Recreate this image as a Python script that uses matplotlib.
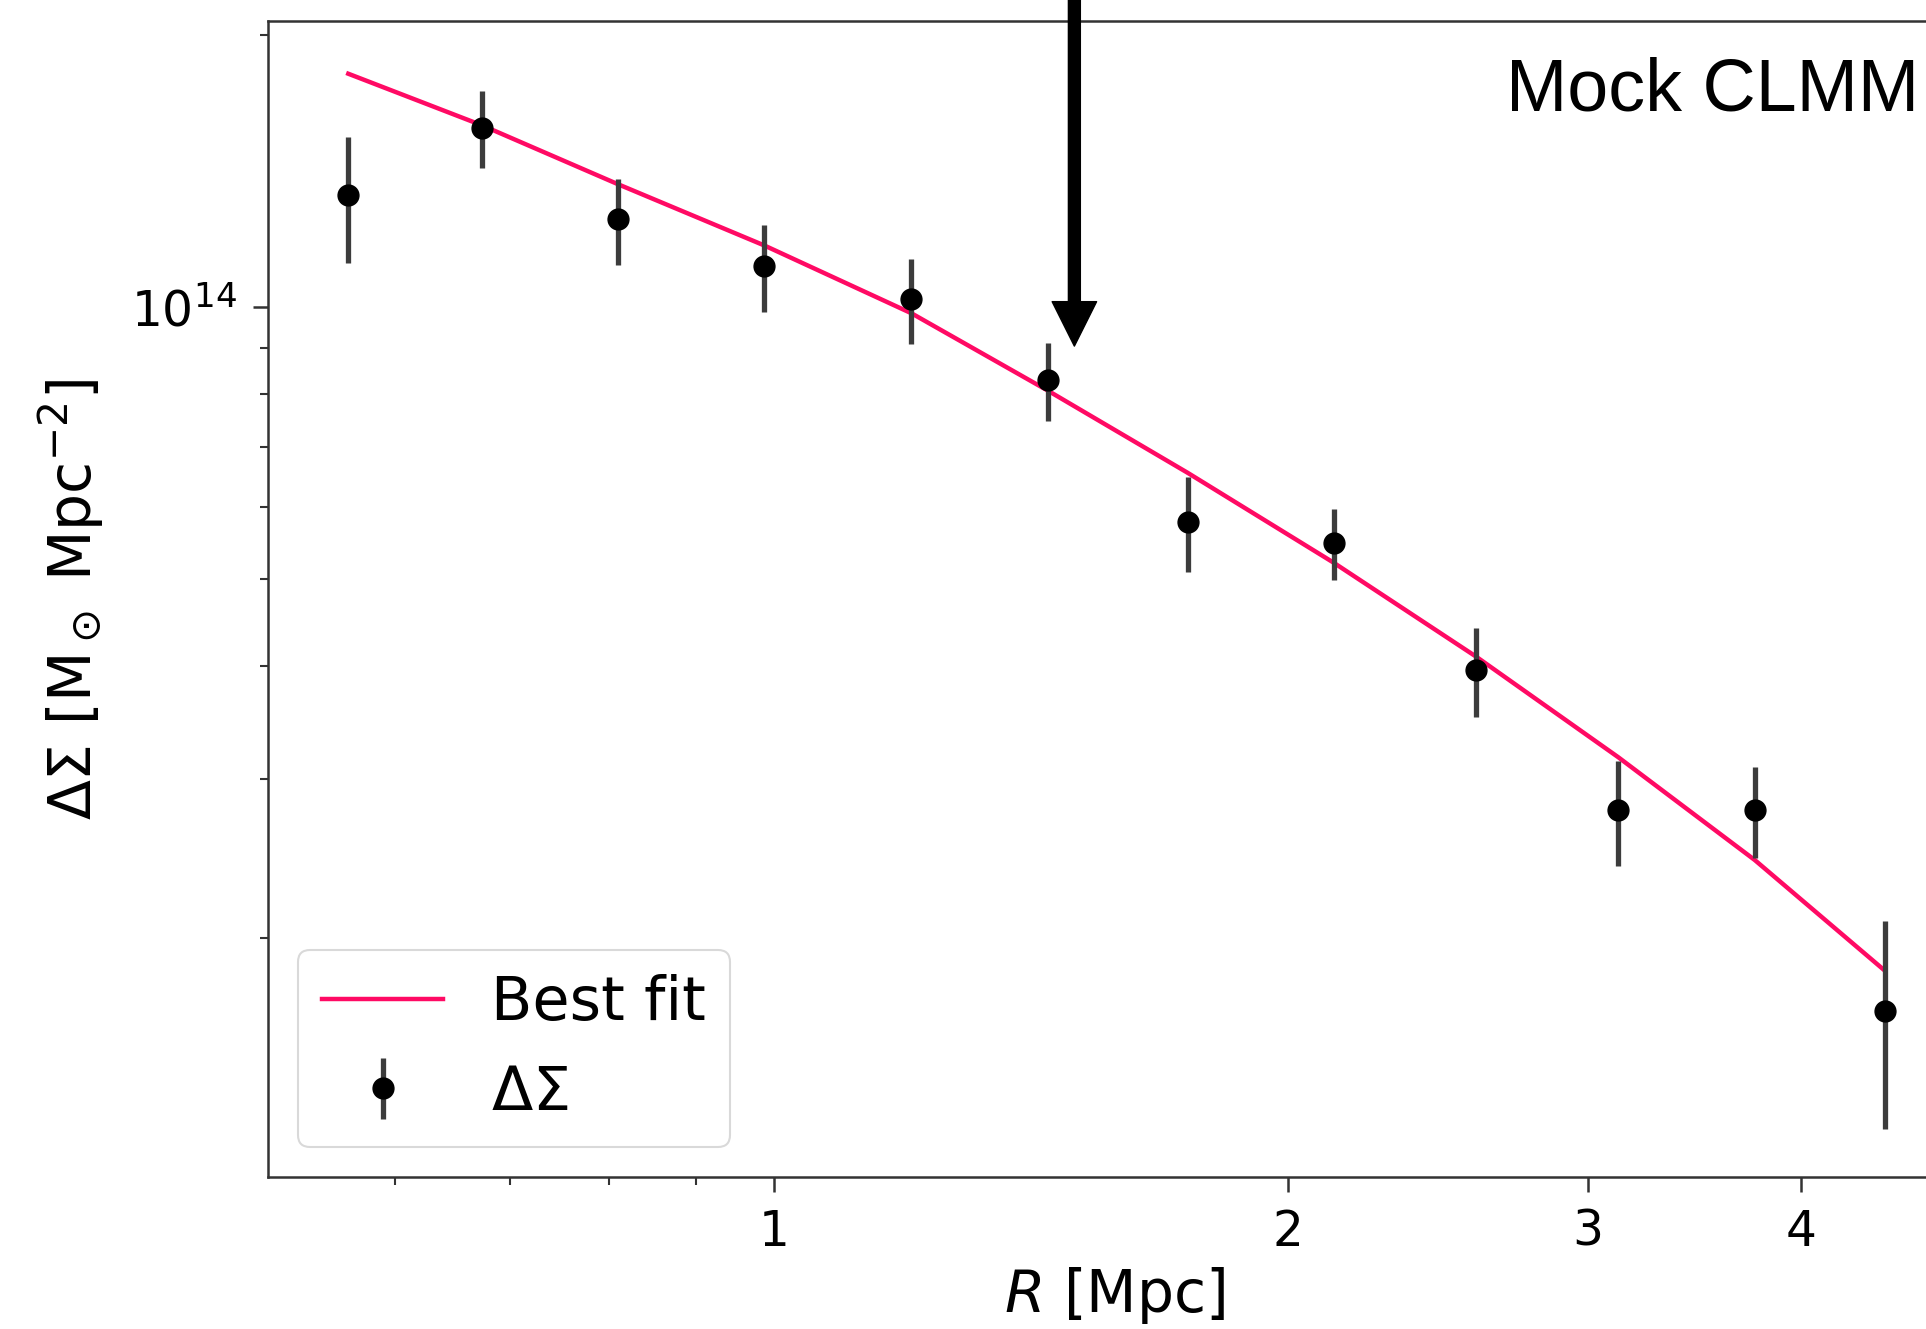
import numpy as np
import matplotlib
matplotlib.use("Agg")
import matplotlib.pyplot as plt
from matplotlib.ticker import LogLocator, NullFormatter, FixedLocator, FixedFormatter

# радиальные бины [Mpc]
R = [0.563, 0.674, 0.810, 0.987, 1.204, 1.447, 1.748, 2.128, 2.579, 3.126, 3.757, 4.478]
# измеренный профиль и ошибки [1e14 Msun/Mpc^2]
ds = [1.33, 1.58, 1.25, 1.11, 1.02, 0.83, 0.578, 0.548, 0.396, 0.277, 0.277, 0.166]
ds_err = [0.212, 0.156, 0.137, 0.123, 0.109, 0.082, 0.070, 0.050, 0.045, 0.037, 0.032, 0.043]
# лучшая модель в тех же бинах
ds_fit = [1.813, 1.590, 1.368, 1.170, 0.984, 0.808, 0.655, 0.521, 0.410, 0.317, 0.244, 0.184]

R = np.array(R)
ds = np.array(ds) * 1e14
ds_err = np.array(ds_err) * 1e14
ds_fit = np.array(ds_fit) * 1e14

R_arrow = 1.5

fig = plt.figure(figsize=(19.26, 13.29), dpi=100)
ax = fig.add_axes([0.139, 0.1144, 0.8797, 0.8698])

ax.plot(R, ds_fit, color="#ff0a64", lw=3.2, label="Best fit")
ax.errorbar(R, ds, yerr=ds_err, fmt="o", color="k", ecolor="#3c3c3c",
            ms=15, elinewidth=3.8, capsize=0, label=r"$\Delta\Sigma$")

ax.set_xscale("log")
ax.set_yscale("log")
ax.set_xlim(0.505, 4.97)
ax.set_ylim(1.087e13, 2.074e14)

ax.xaxis.set_major_locator(FixedLocator([1, 2, 3, 4]))
ax.xaxis.set_major_formatter(FixedFormatter(["1", "2", "3", "4"]))
ax.xaxis.set_minor_locator(FixedLocator([0.6, 0.7, 0.8, 0.9]))
ax.xaxis.set_minor_formatter(NullFormatter())
ax.yaxis.set_minor_locator(LogLocator(base=10, subs=np.arange(2, 10)))
ax.yaxis.set_minor_formatter(NullFormatter())

ax.tick_params(which="major", length=11, width=1.8, pad=11, labelsize=35, color="#333333")
ax.tick_params(which="minor", length=6, width=1.5, color="#333333")
for s in ax.spines.values():
    s.set_linewidth(1.8)
    s.set_color("#333333")

ax.set_xlabel(r"$R$ [Mpc]", fontsize=42, labelpad=7)
ax.set_ylabel(r"$\Delta\Sigma$ [M$_\odot$ Mpc$^{-2}$]", fontsize=42, labelpad=18)

leg = ax.legend(loc="lower left", fontsize=43.5, frameon=True, borderaxespad=0.5)
leg.get_frame().set_edgecolor("#d0d0d0")
leg.get_frame().set_linewidth(1.5)

# стрелка на R = 1.5 Mpc
ax.annotate("", xy=(R_arrow, 0.905e14), xycoords="data",
            xytext=(R_arrow, 1.05), textcoords=("data", "figure fraction"),
            arrowprops=dict(facecolor="black", edgecolor="black", width=8.6,
                            headwidth=32, headlength=32, shrink=0),
            annotation_clip=False)

fig.text(0.9964, 0.917, "Mock CLMM", fontsize=53, family="Liberation Sans",
         ha="right", va="baseline")

fig.savefig("out.png", dpi=100)
